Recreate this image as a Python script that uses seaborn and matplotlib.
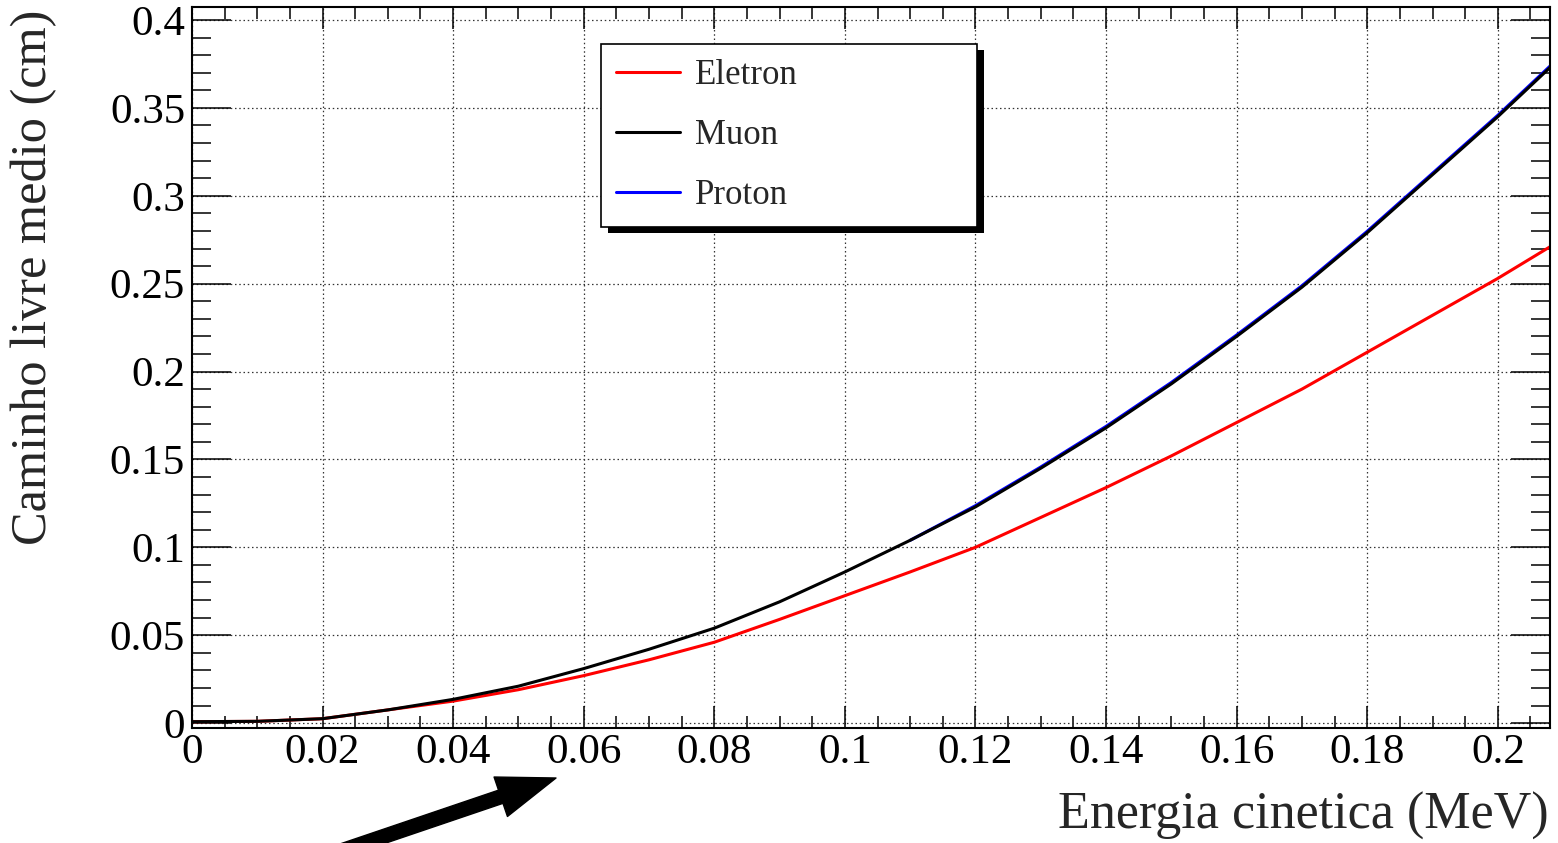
import matplotlib
matplotlib.use("Agg")
import matplotlib.pyplot as plt
import seaborn as sns
from matplotlib.patches import Rectangle
from matplotlib.transforms import IdentityTransform
from matplotlib.ticker import MultipleLocator, FuncFormatter

# Energia cinetica (MeV) and caminho livre medio (cm)
energia = [0.0, 0.01, 0.02, 0.03, 0.04, 0.05, 0.06, 0.07, 0.08, 0.09, 0.10,
           0.11, 0.12, 0.13, 0.14, 0.15, 0.16, 0.17, 0.18, 0.19, 0.20, 0.208]
eletron = [0.0008, 0.001, 0.0025, 0.0075, 0.0125, 0.019, 0.027, 0.036, 0.046, 0.059, 0.0725,
           0.086, 0.100, 0.117, 0.134, 0.152, 0.171, 0.190, 0.211, 0.232, 0.253, 0.271]
muon = [0.0008, 0.001, 0.0025, 0.0075, 0.0135, 0.021, 0.031, 0.042, 0.054, 0.069, 0.086,
        0.104, 0.123, 0.145, 0.168, 0.193, 0.220, 0.248, 0.279, 0.312, 0.345, 0.373]
energia_proton = [0.11, 0.12, 0.13, 0.14, 0.15, 0.16, 0.17, 0.18, 0.19, 0.20, 0.208]
proton = [0.104, 0.1237, 0.1457, 0.1688, 0.1938, 0.2208, 0.2488, 0.2798, 0.3128, 0.3458, 0.3738]

def main():
    sns.set_style("ticks")
    plt.rcParams["font.family"] = ["Liberation Serif", "DejaVu Serif"]

    fig = plt.figure(figsize=(15.58, 8.43), dpi=100)
    ax = fig.add_axes([0.1232, 0.1364, 0.8717, 0.8553])

    # proton first so the muon curve sits on top of it
    sns.lineplot(x=energia_proton, y=proton, color="#0000ff", linewidth=2.2, ax=ax, label="Proton")
    sns.lineplot(x=energia, y=eletron, color="#ff0000", linewidth=2.2, ax=ax, label="Eletron")
    sns.lineplot(x=energia, y=muon, color="black", linewidth=2.2, ax=ax, label="Muon")

    ax.set_xlim(0, 0.208)
    ax.set_ylim(-0.0028, 0.4074)

    ax.xaxis.set_major_locator(MultipleLocator(0.02))
    ax.xaxis.set_minor_locator(MultipleLocator(0.005))
    ax.yaxis.set_major_locator(MultipleLocator(0.05))
    ax.yaxis.set_minor_locator(MultipleLocator(0.01))
    fmt = FuncFormatter(lambda v, p: "%g" % round(v, 4))
    ax.xaxis.set_major_formatter(fmt)
    ax.yaxis.set_major_formatter(fmt)

    ax.tick_params(which="both", direction="in", top=True, right=True, width=1.1, colors="black")
    ax.tick_params(axis="x", which="major", length=16, pad=4, labelsize=31)
    ax.tick_params(axis="x", which="minor", length=8.5)
    ax.tick_params(axis="y", which="major", length=28, pad=5, labelsize=31)
    ax.tick_params(axis="y", which="minor", length=14)

    for s in ax.spines.values():
        s.set_linewidth(1.5)
        s.set_color("black")

    ax.grid(True, which="major", color="#333333", linewidth=0.9, linestyle=(0, (1.2, 2.2)))
    ax.set_axisbelow(True)

    ax.set_xlabel("Energia cinetica (MeV)", fontsize=37.5, loc="right")
    ax.xaxis.set_label_coords(0.999, -0.089)
    ax.set_ylabel("Caminho livre medio (cm)", fontsize=36.3, loc="top")
    ax.yaxis.set_label_coords(-0.099, 0.996)

    handles, labels = ax.get_legend_handles_labels()
    order = [labels.index(n) for n in ["Eletron", "Muon", "Proton"]]
    leg = ax.legend([handles[i] for i in order], [labels[i] for i in order],
                    loc="upper left", bbox_to_anchor=(0.301, 0.7, 0.277, 0.249), mode="expand",
                    borderaxespad=0, fontsize=25, frameon=True, fancybox=False,
                    edgecolor="black", framealpha=1, handlelength=1.86, handletextpad=0.43,
                    labelspacing=0.78, borderpad=0.43)
    leg.get_frame().set_linewidth(1.2)
    leg.set_zorder(5)

    # ROOT style legend shadow
    fig.canvas.draw()
    bb = leg.get_window_extent()
    ax.add_patch(Rectangle((bb.x0 + 7, bb.y0 - 6), bb.width, bb.height, transform=IdentityTransform(),
                           facecolor="black", edgecolor="none", zorder=4.5, clip_on=False))

    # arrow at the bottom left
    ax.annotate("", xy=(556, 843 - 778), xycoords="figure pixels",
                xytext=(335, -10), textcoords="figure pixels",
                arrowprops=dict(facecolor="black", edgecolor="black", width=10,
                                headwidth=30, headlength=42, shrink=0),
                annotation_clip=False)

    fig.savefig("out.png", dpi=100)
    plt.close(fig)

if __name__ == "__main__":
    main()
